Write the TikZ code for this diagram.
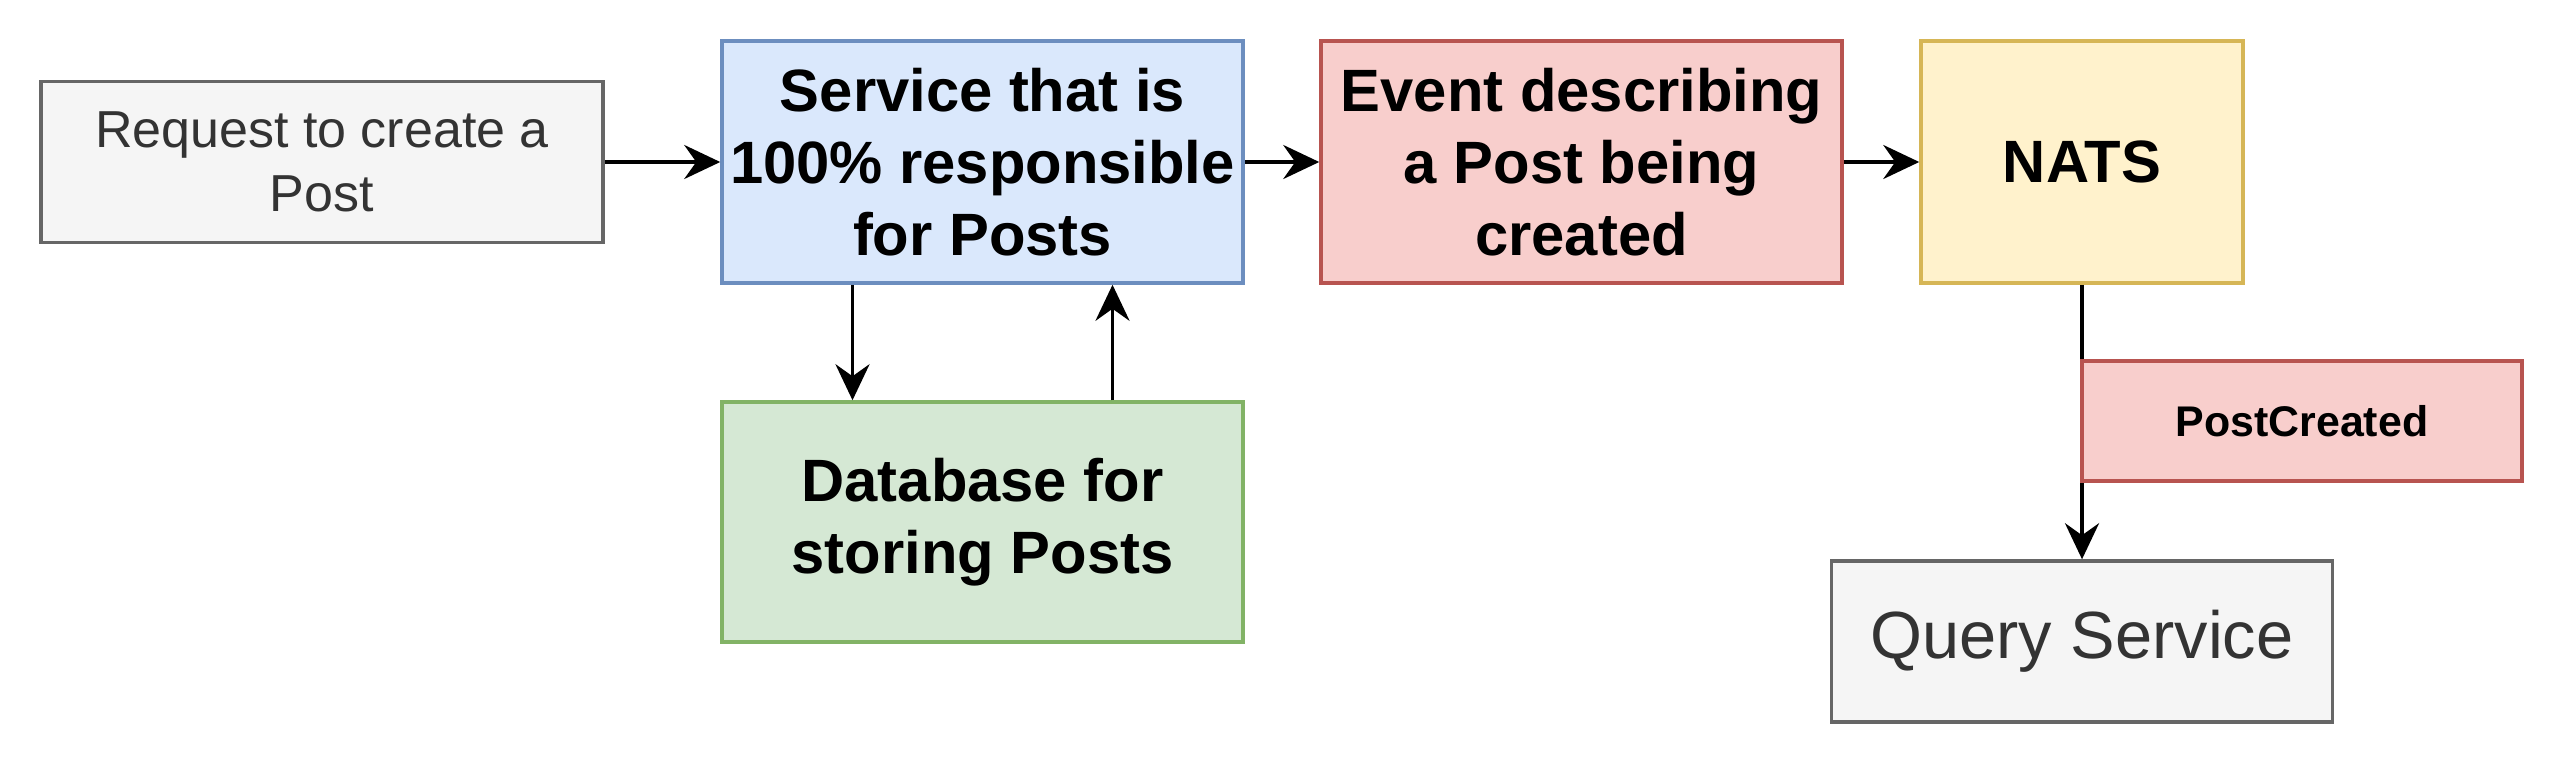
\documentclass[tikz,border=0pt]{standalone}
\usepackage{fontspec}
\setmainfont{Liberation Sans}
\usetikzlibrary{arrows.meta, positioning}

\definecolor{greyfill}{HTML}{F5F5F5}
\definecolor{greydraw}{HTML}{666666}
\definecolor{greytext}{HTML}{333333}
\definecolor{bluefill}{HTML}{DAE8FC}
\definecolor{bluedraw}{HTML}{6C8EBF}
\definecolor{redfill}{HTML}{F8CECC}
\definecolor{reddraw}{HTML}{B85450}
\definecolor{yellowfill}{HTML}{FFF2CC}
\definecolor{yellowdraw}{HTML}{D6B656}
\definecolor{greenfill}{HTML}{D5E8D4}
\definecolor{greendraw}{HTML}{82B366}

\begin{document}
\begin{tikzpicture}[
      box/.style = {
          draw,
          line width=1pt,
          align=center,
          inner sep=0pt,
        },
      bigtext/.style = {font=\bfseries\fontsize{17}{20.5}\selectfont},
      greybox/.style = {box, draw=greydraw, fill=greyfill, text=greytext},
      bluebox/.style = {box, draw=bluedraw, fill=bluefill, bigtext},
      redbox/.style = {box, draw=reddraw, fill=redfill},
      yellowbox/.style = {box, draw=yellowdraw, fill=yellowfill, bigtext},
      greenbox/.style = {box, draw=greendraw, fill=greenfill, bigtext},
      flow/.style = {
          -{Stealth[length=0.36cm, width=0.34cm, inset=0.12cm]},
          line width=1.1pt,
        },
    ]

    \useasboundingbox (0,0) rectangle (25.64,7.64);

    \node[greybox, minimum width=5.62cm, minimum height=1.61cm,
          font=\fontsize{14.8}{18.2}\selectfont]
      (request) at (3.22,6.02) {Request to create a\\Post};

    \node[bluebox, minimum width=5.21cm, minimum height=2.42cm]
      (service) at (9.825,6.02) {Service that is\\100\% responsible\\for Posts};

    \node[redbox, bigtext, minimum width=5.21cm, minimum height=2.42cm]
      (event) at (15.815,6.02) {Event describing\\a Post being\\created};

    \node[yellowbox, minimum width=3.22cm, minimum height=2.42cm]
      (nats) at (20.82,6.02) {NATS};

    \node[greenbox, minimum width=5.21cm, minimum height=2.40cm]
      (database) at (9.825,2.42) {Database for\\storing Posts};

    \node[greybox, minimum width=5.01cm, minimum height=1.61cm,
          font=\fontsize{19}{23}\selectfont]
      (query) at (20.82,1.225) {Query Service};

    % connectors
    \draw[flow] (request.east) -- (service.west);
    \draw[flow] (service.east) -- (event.west);
    \draw[flow] (event.east) -- (nats.west);
    \draw[flow] ([xshift=-1.3cm]service.south) -- ([xshift=-1.3cm]database.north);
    \draw[flow] ([xshift=1.3cm]database.north) -- ([xshift=1.3cm]service.south);
    \draw[flow] (nats.south) -- (query.north);

    % event label on top of the line
    \node[redbox, minimum width=4.40cm, minimum height=1.20cm,
          font=\bfseries\fontsize{12.2}{14}\selectfont]
      (created) at (23.02,3.43) {PostCreated};

  \end{tikzpicture}
\end{document}
